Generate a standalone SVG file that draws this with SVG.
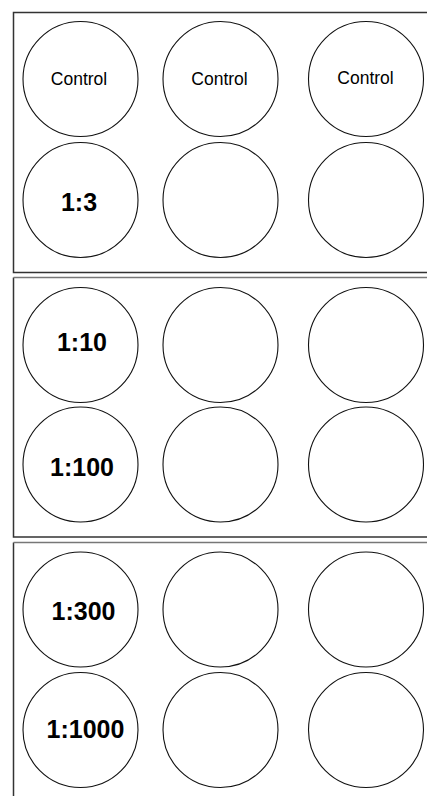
<svg xmlns="http://www.w3.org/2000/svg" width="427" height="796" viewBox="0 0 427 796">
<style>
.panel{fill:none;stroke:#333;stroke-width:1.5}
.top{stroke:#777;stroke-width:1.5}
.well{fill:#fff;stroke:#111;stroke-width:1.1}
.ctl{font-family:"Liberation Sans",Arial,sans-serif;font-size:17.5px;fill:#000;text-anchor:middle}
.dil{font-family:"Liberation Sans",Arial,sans-serif;font-size:25px;font-weight:bold;fill:#000;text-anchor:middle}
</style>
<rect width="427" height="796" fill="#fff"/>
<g id="plate1">
<path class="panel" d="M428,12.5 H13.5 V272.5 H428"/>
</g>
<g id="plate2">
<path class="panel" d="M13.5,277.5 V537 H428"/>
<line class="top" x1="13.5" y1="277.5" x2="428" y2="277.5"/>
</g>
<g id="plate3">
<path class="panel" d="M13.5,542.5 V796"/>
<line class="top" x1="13.5" y1="542.5" x2="428" y2="542.5"/>
</g>
<g id="connectors"></g>
<g id="w1a"><circle class="well" cx="80.5" cy="79" r="57.5"/><text class="ctl" x="79" y="85">Control</text></g>
<g id="w1b"><circle class="well" cx="220.5" cy="79" r="57.5"/><text class="ctl" x="219.5" y="85">Control</text></g>
<g id="w1c"><circle class="well" cx="366" cy="79" r="57.5"/><text class="ctl" x="365.5" y="84">Control</text></g>
<g id="w2a"><circle class="well" cx="80.5" cy="200" r="57.5"/><text class="dil" x="79" y="211">1:3</text></g>
<g id="w2b"><circle class="well" cx="220.5" cy="200" r="57.5"/></g>
<g id="w2c"><circle class="well" cx="366" cy="200" r="57.5"/></g>
<g id="w3a"><circle class="well" cx="80.5" cy="345" r="57.5"/><text class="dil" x="82" y="351">1:10</text></g>
<g id="w3b"><circle class="well" cx="220.5" cy="345" r="57.5"/></g>
<g id="w3c"><circle class="well" cx="366" cy="345" r="57.5"/></g>
<g id="w4a"><circle class="well" cx="80.5" cy="464.5" r="57.5"/><text class="dil" x="82" y="476">1:100</text></g>
<g id="w4b"><circle class="well" cx="220.5" cy="464.5" r="57.5"/></g>
<g id="w4c"><circle class="well" cx="366" cy="464.5" r="57.5"/></g>
<g id="w5a"><circle class="well" cx="80.5" cy="609.5" r="57.5"/><text class="dil" x="83.5" y="620">1:300</text></g>
<g id="w5b"><circle class="well" cx="220.5" cy="609.5" r="57.5"/></g>
<g id="w5c"><circle class="well" cx="366" cy="609.5" r="57.5"/></g>
<g id="w6a"><circle class="well" cx="80.5" cy="730" r="57.5"/><text class="dil" x="85.5" y="738">1:1000</text></g>
<g id="w6b"><circle class="well" cx="220.5" cy="730" r="57.5"/></g>
<g id="w6c"><circle class="well" cx="366" cy="730" r="57.5"/></g>
</svg>
